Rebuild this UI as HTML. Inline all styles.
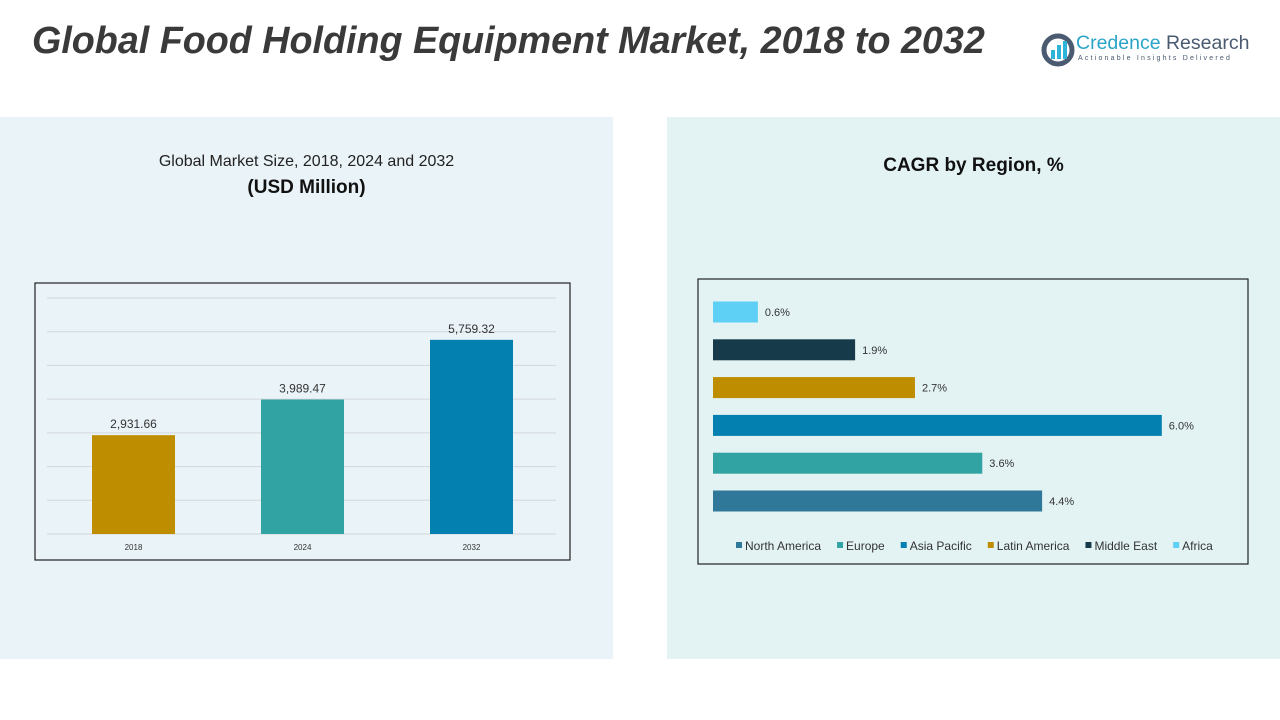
<!DOCTYPE html>
<html><head><meta charset="utf-8"><style>
body{margin:0;width:1280px;height:720px;background:#fff;font-family:"Liberation Sans",sans-serif;position:relative;overflow:hidden}
.abs{position:absolute}
</style></head><body>
<div class="abs" style="left:32px;top:19px;font-size:37.7px;font-weight:bold;font-style:italic;color:#3a3a3a;white-space:nowrap">Global Food Holding Equipment Market, 2018 to 2032</div>
<div class="abs" style="left:1040px;top:30px;width:215px;height:40px">
 <svg width="36" height="36" style="position:absolute;left:0;top:2px"><circle cx="18" cy="18" r="14" fill="none" stroke="#4a5a70" stroke-width="5"/><rect x="11" y="18" width="4" height="9" fill="#2bb3d8"/><rect x="17" y="13" width="4" height="14" fill="#2bb3d8"/><rect x="23" y="9" width="4" height="18" fill="#2bb3d8"/></svg>
 <div style="position:absolute;left:36px;top:2px;font-size:19.5px;color:#2aa5c8;white-space:nowrap">Credence <span style="color:#4a5a70">Research</span></div>
 <div style="position:absolute;left:38px;top:25px;font-size:7px;letter-spacing:2.2px;color:#4a5a70;white-space:nowrap">Actionable Insights Delivered</div>
</div>
<div class="abs" style="left:0;top:117px;width:613px;height:542px;background:#eaf3f8"></div>
<div class="abs" style="left:667px;top:117px;width:613px;height:542px;background:#e3f3f4"></div>
<div class="abs" style="left:0;top:153px;width:613px;text-align:center;font-size:16px;color:#222">Global Market Size, 2018, 2024 and 2032</div>
<div class="abs" style="left:0;top:177px;width:613px;text-align:center;font-size:19px;font-weight:bold;color:#111">(USD Million)</div>
<div class="abs" style="left:667px;top:155px;width:613px;text-align:center;font-size:19px;font-weight:bold;color:#111">CAGR by Region, %</div>
<svg class="abs" style="left:0;top:0" width="1280" height="720" id="svg">
<rect x="35" y="283" width="535" height="277" fill="none" stroke="#222" stroke-width="1.2"/>
<rect x="698" y="279" width="550" height="285" fill="none" stroke="#222" stroke-width="1.2"/>
</svg>
<script>
const years=["2018","2024","2032"];
const sizes=[2931.66,3989.47,5759.32];
const sizeLabels=["2,931.66","3,989.47","5,759.32"];
const barColors=["#bf8d00","#32a3a3","#0480b0"];
const regions=["Africa","Middle East","Latin America","Asia Pacific","Europe","North America"];
const cagr=[0.6,1.9,2.7,6.0,3.6,4.4];
const regColors=["#5fd0f5","#163a4a","#bf8d00","#0480b0","#32a3a3","#2f7899"];
const legendNames=["North America","Europe","Asia Pacific","Latin America","Middle East","Africa"];
const legendColors=["#2f7899","#32a3a3","#0480b0","#bf8d00","#163a4a","#5fd0f5"];
const gridTicks=[0,1000,2000,3000,4000,5000,6000,7000];
const svg=document.getElementById('svg');const NS="http://www.w3.org/2000/svg";
function mk(t,a,txt){const e=document.createElementNS(NS,t);for(const k in a)e.setAttribute(k,a[k]);if(txt!==undefined)e.textContent=txt;svg.appendChild(e);return e;}
const y=v=>534-v*(236/7000);
const xc=i=>133.5+i*169;
gridTicks.forEach(t=>{const l=mk('line',{x1:47,x2:556,y1:y(t),y2:y(t),stroke:'#d3d7da','stroke-width':1});

});
years.forEach((yr,i)=>{
const r=mk('rect',{x:xc(i)-41.5,y:y(sizes[i]),width:83,height:534-y(sizes[i]),fill:barColors[i]});


const t=mk('text',{x:xc(i),y:y(sizes[i])-7,'text-anchor':'middle','font-size':12,fill:'#333','font-family':'Liberation Sans'},sizeLabels[i]);


const a=mk('text',{x:xc(i),y:550,'text-anchor':'middle','font-size':8,fill:'#333','font-family':'Liberation Sans'},yr);


});
const hx=v=>713+v*74.8;
regions.forEach((rg,i)=>{
const cy=312+i*37.8;
const r=mk('rect',{x:713,y:cy-10.5,width:hx(cagr[i])-713,height:21,fill:regColors[i]});


const t=mk('text',{x:hx(cagr[i])+7,y:cy+4,'font-size':11,fill:'#333','font-family':'Liberation Sans'},cagr[i].toFixed(1)+'%');


});
let lx=736;
legendNames.forEach((n,i)=>{
const s=mk('rect',{x:lx,y:542,width:6,height:6,fill:legendColors[i]});


const t=mk('text',{x:lx+9,y:550,'font-size':12,fill:'#333','font-family':'Liberation Sans'},n);


lx+=t.getComputedTextLength()+25;
});
</script>
</body></html>
